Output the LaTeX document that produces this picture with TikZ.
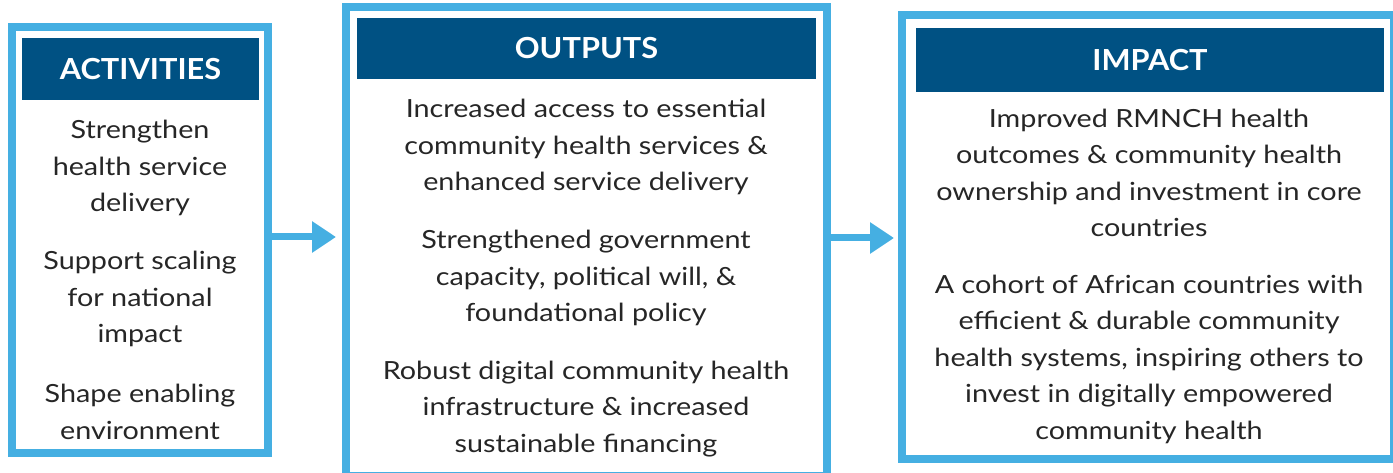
\documentclass[tikz,border=0pt]{standalone}
\usepackage{fontspec}
\setmainfont{Lato}
\newfontfamily\bodyfont{Lato}[FakeStretch=1.15]
\newfontfamily\headfont{Lato}[FakeStretch=1.06]
\usetikzlibrary{arrows.meta}
\definecolor{lblue}{RGB}{69,175,226}
\definecolor{dblue}{RGB}{0,81,131}
\definecolor{txt}{RGB}{38,38,38}
\tikzset{
  frame/.style={draw=lblue,line width=8pt,fill=white,inner sep=0pt},
  head/.style={fill=dblue,text=white,inner sep=0pt,font=\headfont\fontsize{29}{30}\selectfont\bfseries},
  body/.style={text=txt,align=center,inner sep=0pt,font=\bodyfont\fontsize{25}{36.5}\selectfont},
  conn/.style={draw=lblue,line width=7pt,-{Triangle[length=24pt,width=30pt]}}
}
\begin{document}
\begin{tikzpicture}[x=1pt,y=-1pt]
\useasboundingbox (0,0) rectangle (1393,473);
\clip (0,0) rectangle (1393,473);
\fill[white] (0,0) rectangle (1393,473);
% boxes
\node[frame,minimum width=256pt,minimum height=426pt] (act) at (140,240) {};
\node[frame,minimum width=481pt,minimum height=469pt] (out) at (586.5,241.5) {};
\node[frame,minimum width=492pt,minimum height=444pt] (imp) at (1148,237) {};
% headers
\node[head,minimum width=237pt,minimum height=62pt] (acth) at (140.5,69) {ACTIVITIES};
\node[head,minimum width=459pt,minimum height=61pt] (outh) at (586.5,48.5) {OUTPUTS};
\node[head,minimum width=468pt,minimum height=64pt] (imph) at (1150,60) {IMPACT};
% texts
\node[body] (a1) at (140,168) {Strengthen\\health service\\delivery};
\node[body] (a2) at (140,299) {Support scaling\\for national\\impact};
\node[body] (a3) at (140,412) {Shape enabling\\environment};
\node[body] (o1) at (586,147) {Increased access to essential\\community health services \&\\enhanced service delivery};
\node[body] (o2) at (586,278) {Strengthened government\\capacity, political will, \&\\foundational policy};
\node[body] (o3) at (586,409) {Robust digital community health\\infrastructure \& increased\\sustainable financing};
\node[body] (i1) at (1149,173) {Improved RMNCH health\\outcomes \& community health\\ownership and investment in core\\countries};
\node[body] (i2) at (1149,359) {A cohort of African countries with\\efficient \& durable community\\health systems, inspiring others to\\invest in digitally empowered\\community health};
% arrows
\coordinate (r1) at (0,237);
\coordinate (r2) at (0,238);
\draw[conn,shorten >=6pt] (act.east |- r1) -- (out.west |- r1);
\draw[conn,shorten >=4pt] (out.east |- r2) -- (imp.west |- r2);
\end{tikzpicture}
\end{document}
